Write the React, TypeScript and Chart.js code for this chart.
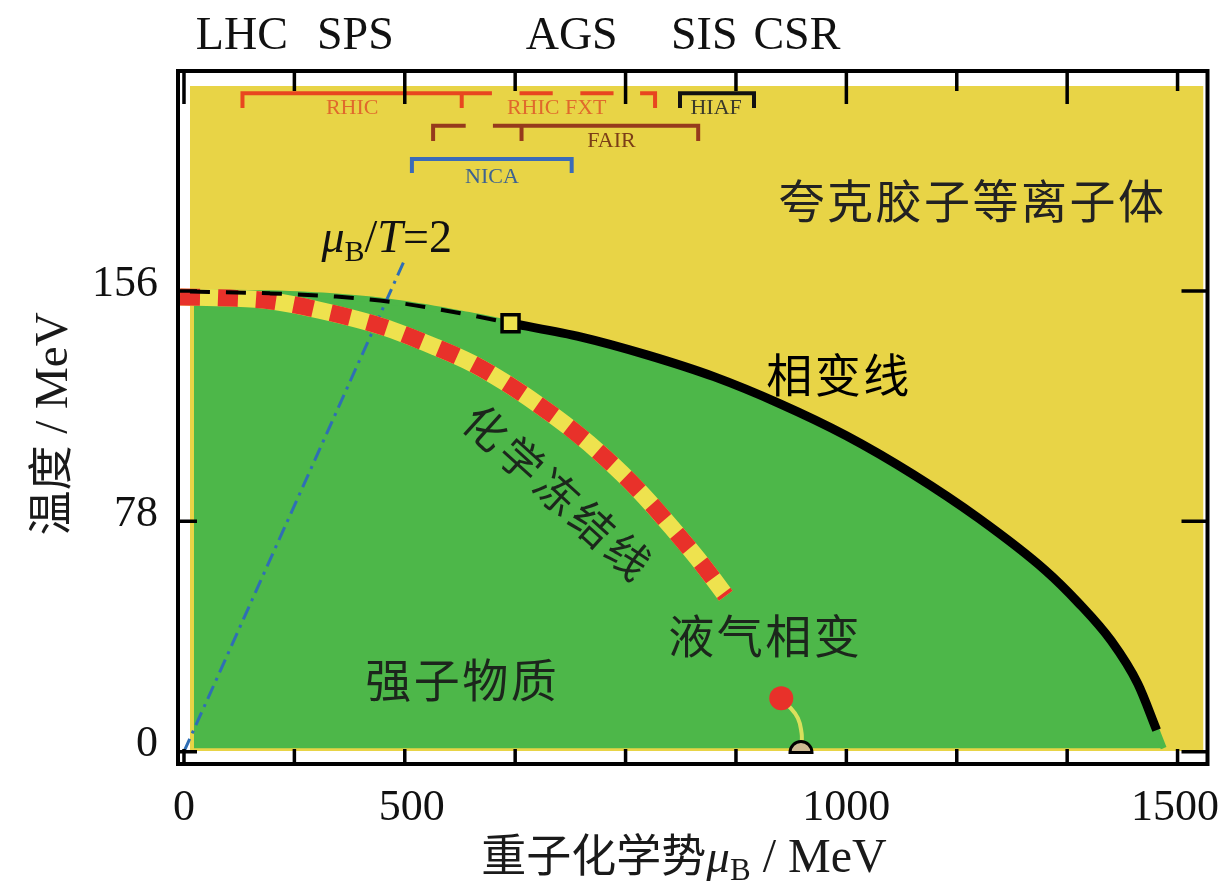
import React, { useEffect, useRef } from 'react';
import { Chart, registerables } from 'chart.js';

Chart.register(...registerables);

const SERIF = '"Liberation Serif", "Times New Roman", serif';
const CJK = '"Noto Sans CJK SC", "Noto Sans CJK JP", sans-serif';

// ---------- axes ----------
const X_MIN = -9.03;
const X_MAX = 1545.2;
const Y_MIN = -4.17;
const Y_MAX = 230.5;
const xTickValues = [0, 166.67, 333.33, 500, 666.67, 833.33, 1000, 1166.67, 1333.33, 1500];
const xLabelValues = [0, 344, 1000, 1496];
const xLabelTexts = ['0', '500', '1000', '1500'];
const yTickValues = [0, 78, 156];
const yLabelTexts = ['0', '78', '156'];

// ---------- regions ----------
const qgpRegionMu = [9, 1539.2];
const qgpRegionTop = [225.4, 225.4];
const QGP_BOTTOM = 0.2;
const HADRON_BOTTOM = 1.2;

// ---------- phase boundary ----------
const crossoverMu = [9.0, 129.4, 229.7, 329.5, 430.3, 493.0];
const crossoverT = [155.8, 155.2, 154.1, 151.8, 147.9, 145.1];
const firstOrderMu = [493.0, 600, 700, 800, 900, 1000, 1100, 1200, 1300, 1350, 1400, 1440, 1468.4];
const firstOrderT = [145.1, 140.4, 134.3, 127.0, 117.8, 107.0, 94.0, 79.0, 61.5, 50.5, 37.5, 23.0, 7.3];
const hadronEdgeStartMu = [15];
const hadronEdgeStartT = [155.6];
const hadronEdgeEndMu = [1479];
const hadronEdgeEndT = [1.2];

// ---------- chemical freeze-out ----------
const freezeOutMu = [-6, 69.2, 129.4, 204.6, 300, 380, 435, 485, 535, 585, 636, 686, 736, 786, 818];
const freezeOutT = [154.0, 153.6, 152.7, 149.5, 143.9, 137.0, 131.5, 125.0, 117.5, 109.2, 99.5, 88.6, 76.0, 62.4, 52.8];

// ---------- mu_B / T = 2 ----------
const ratioLineMu = [0, 332];
const ratioLineT = [0, 166];

// ---------- points ----------
const criticalPointMu = [493.0];
const criticalPointT = [145.1];
const liquidGasMu = [901.7];
const liquidGasT = [18.1];
const connectorMu = [901.7, 911.7, 926.8, 932.4, 932.8];
const connectorT = [18.1, 15.8, 11.4, 6.3, 3.3];
const nucleusMu = [931.5];
const nucleusT = [-0.3];

// ---------- facility ranges ----------
const rhicMu = [[88.3, 88.3, 464.9], [419.3, 419.3], [506.6, 556.7], [598.4, 648.5], [688.6, 711.2, 711.2]];
const rhicT = [[218.0, 223.0, 223.0], [223.0, 218.0], [223.0, 223.0], [223.0, 223.0], [223.0, 223.0, 218.0]];
const hiafMu = [[748.8, 748.8, 860.6, 860.6]];
const hiafT = [[218.0, 223.0, 223.0, 218.0]];
const fairMu = [[376.1, 376.1, 425.3], [466.4, 776.3, 776.3], [509.6, 509.6]];
const fairT = [[206.8, 212.0, 212.0], [212.0, 212.0, 206.8], [212.0, 206.8]];
const nicaMu = [[344.1, 344.1, 585.3, 585.3]];
const nicaT = [[196.0, 200.7, 200.7, 196.0]];

// ---------- text ----------
const facilityNames = ['RHIC', 'RHIC FXT', 'HIAF', 'FAIR', 'NICA'];
const acceleratorNames = ['LHC', 'SPS', 'AGS', 'SIS', 'CSR'];
const regionTexts = ['夸克胶子等离子体', '相变线', '液气相变', '强子物质'];
const freezeOutText = '化学冻结线';

// label placement (kept apart from data)
const facilityLabelPos = [[254, 218.0], [562.7, 218.0], [803.4, 218.0], [645.4, 206.6], [464.9, 194.6]];
const acceleratorLabelPos = [87.3, 258.8, 585.3, 785.4, 925.3];
const ACCEL_BASE_T = 238.0;
const regionLabelPos = [[1188.6, 186.5], [987, 127.6], [875.6, 39.2], [418.3, 24.4]];
const freezeLabelPos = [563.2, 88.0];

const COL = {
  yellow: '#E8D446',
  green: '#4DB749',
  red: '#E8312A',
  bandYellow: '#EEE24E',
  blue: '#2F6EB5',
  rhic: '#E8461F',
  rhicText: '#E0692C',
  fair: '#963A1C',
  fairText: '#7B3E17',
  nica: '#3A6BB8',
  nicaText: '#3E6290',
  hiaf: '#111111',
  hiafText: '#3A3A2A',
  tan: '#CDBA92',
  connector: '#D9E05C',
};

type P = { x: number; y: number | null };
const pts = (mu: number[], t: number[]): P[] => mu.map((m, i) => ({ x: m, y: t[i] }));
const paths = (mus: number[][], ts: number[][]): P[] => {
  const out: P[] = [];
  mus.forEach((m, k) => {
    if (k) out.push({ x: m[0], y: null });
    out.push(...pts(m, ts[k]));
  });
  return out;
};

function drawParts(ctx: CanvasRenderingContext2D, parts: { t: string; f: string; dy?: number }[], x: number, y: number, align: 'left' | 'center') {
  ctx.textAlign = 'left';
  ctx.textBaseline = 'alphabetic';
  let total = 0;
  const widths = parts.map((p) => {
    ctx.font = p.f;
    const w = ctx.measureText(p.t).width;
    total += w;
    return w;
  });
  let cx = align === 'center' ? x - total / 2 : x;
  parts.forEach((p, i) => {
    ctx.font = p.f;
    ctx.fillText(p.t, cx, y + (p.dy || 0));
    cx += widths[i];
  });
}

function drawSpaced(ctx: CanvasRenderingContext2D, text: string, cx: number, cy: number, step: number) {
  const chars = Array.from(text);
  ctx.textAlign = 'center';
  ctx.textBaseline = 'middle';
  chars.forEach((ch, i) => {
    ctx.fillText(ch, cx + (i - (chars.length - 1) / 2) * step, cy);
  });
}

const decor = {
  id: 'decor',
  afterDatasetsDraw(chart: any) {
    const ctx: CanvasRenderingContext2D = chart.ctx;
    const xs = chart.scales.x;
    const ys = chart.scales.y;
    const px = (v: number) => xs.getPixelForValue(v);
    const py = (v: number) => ys.getPixelForValue(v);
    ctx.save();

    // nucleus half disc
    const nx = px(nucleusMu[0]);
    const ny = py(nucleusT[0]);
    ctx.beginPath();
    ctx.arc(nx, ny, 11, Math.PI, 2 * Math.PI);
    ctx.closePath();
    ctx.fillStyle = COL.tan;
    ctx.fill();
    ctx.lineWidth = 3;
    ctx.strokeStyle = '#000';
    ctx.stroke();

    // facility labels
    const facColors = [COL.rhicText, COL.rhicText, COL.hiafText, COL.fairText, COL.nicaText];
    ctx.font = `22px ${SERIF}`;
    ctx.textAlign = 'center';
    ctx.textBaseline = 'middle';
    facilityNames.forEach((n, i) => {
      ctx.fillStyle = facColors[i];
      ctx.fillText(n, px(facilityLabelPos[i][0]), py(facilityLabelPos[i][1]));
    });

    // region labels
    const regionColors = ['#222222', '#000000', '#1c261c', '#1c261c'];
    ctx.font = `46px ${CJK}`;
    regionTexts.forEach((t, i) => {
      ctx.fillStyle = regionColors[i];
      drawSpaced(ctx, t, px(regionLabelPos[i][0]), py(regionLabelPos[i][1]), 48.5);
    });

    // freeze-out label (rotated)
    ctx.save();
    ctx.translate(px(freezeLabelPos[0]), py(freezeLabelPos[1]));
    ctx.rotate((42.2 * Math.PI) / 180);
    ctx.font = `43px ${CJK}`;
    ctx.fillStyle = '#1c261c';
    drawSpaced(ctx, freezeOutText, 0, 0, 48);
    ctx.restore();

    // mu_B/T = 2 label
    ctx.fillStyle = '#111';
    drawParts(
      ctx,
      [
        { t: 'μ', f: `italic 46px ${SERIF}` },
        { t: 'B', f: `30px ${SERIF}`, dy: 9 },
        { t: '/', f: `46px ${SERIF}` },
        { t: 'T', f: `italic 46px ${SERIF}` },
        { t: '=2', f: `46px ${SERIF}` },
      ],
      px(207.6),
      py(169.2),
      'left'
    );
    ctx.restore();
  },
  afterDraw(chart: any) {
    const ctx: CanvasRenderingContext2D = chart.ctx;
    const a = chart.chartArea;
    const xs = chart.scales.x;
    const ys = chart.scales.y;
    ctx.save();
    ctx.strokeStyle = '#000';
    ctx.lineWidth = 3.5;
    ctx.lineCap = 'butt';
    // ticks
    xTickValues.forEach((v, i) => {
      const x = xs.getPixelForValue(v);
      ctx.beginPath();
      ctx.moveTo(x, a.top);
      ctx.lineTo(x, a.top + (i % 2 === 0 ? 33 : 20));
      ctx.moveTo(x, a.bottom);
      ctx.lineTo(x, a.bottom - 15);
      ctx.stroke();
    });
    yTickValues.forEach((v) => {
      const y = ys.getPixelForValue(v);
      ctx.beginPath();
      ctx.moveTo(a.left, y);
      ctx.lineTo(a.left + 19, y);
      ctx.moveTo(a.right, y);
      ctx.lineTo(a.right - 26, y);
      ctx.stroke();
    });
    // frame
    ctx.lineWidth = 4;
    ctx.strokeRect(a.left, a.top, a.right - a.left, a.bottom - a.top);

    // tick labels
    ctx.fillStyle = '#111';
    ctx.font = `44px ${SERIF}`;
    ctx.textAlign = 'center';
    ctx.textBaseline = 'alphabetic';
    xLabelTexts.forEach((t, i) => {
      ctx.fillText(t, xs.getPixelForValue(xLabelValues[i]), 820);
    });
    ctx.textAlign = 'right';
    ctx.textBaseline = 'middle';
    yLabelTexts.forEach((t, i) => {
      ctx.fillText(t, 158, ys.getPixelForValue(yTickValues[i]) - 7);
    });

    // accelerator names above the frame
    ctx.font = `46px ${SERIF}`;
    ctx.textAlign = 'center';
    ctx.textBaseline = 'alphabetic';
    acceleratorNames.forEach((n, i) => {
      ctx.fillText(n, xs.getPixelForValue(acceleratorLabelPos[i]), ys.getPixelForValue(ACCEL_BASE_T));
    });

    // axis titles
    ctx.fillStyle = '#1a1a1a';
    drawParts(
      ctx,
      [
        { t: '重子化学势', f: `45px ${CJK}` },
        { t: 'μ', f: `italic 47px ${SERIF}` },
        { t: 'B', f: `31px ${SERIF}`, dy: 8 },
        { t: ' / MeV', f: `48px ${SERIF}` },
      ],
      684,
      872,
      'center'
    );
    ctx.save();
    ctx.translate(67, 424);
    ctx.rotate(-Math.PI / 2);
    drawParts(
      ctx,
      [
        { t: '温度', f: `45px ${CJK}` },
        { t: ' / MeV', f: `47px ${SERIF}` },
      ],
      0,
      0,
      'center'
    );
    ctx.restore();
    ctx.restore();
  },
};

export default function App() {
  const ref = useRef<HTMLCanvasElement>(null);
  useEffect(() => {
    const canvas = ref.current;
    if (!canvas) return;
    const hadronMu = [...hadronEdgeStartMu, ...crossoverMu.slice(1), ...firstOrderMu.slice(1), ...hadronEdgeEndMu];
    const hadronT = [...hadronEdgeStartT, ...crossoverT.slice(1), ...firstOrderT.slice(1), ...hadronEdgeEndT];
    const line = (extra: any) => ({
      pointRadius: 0,
      borderCapStyle: 'butt',
      borderJoinStyle: 'miter',
      fill: false,
      ...extra,
    });
    const chart = new Chart(canvas, {
      type: 'line',
      data: {
        datasets: [
          line({
            label: 'critical point',
            data: pts(criticalPointMu, criticalPointT),
            showLine: false,
            pointStyle: 'rect',
            pointRadius: 12,
            pointBorderWidth: 3.5,
            pointBorderColor: '#000',
            pointBackgroundColor: COL.bandYellow,
          }),
          line({
            label: 'liquid-gas',
            data: pts(liquidGasMu, liquidGasT),
            showLine: false,
            pointStyle: 'circle',
            pointRadius: 12,
            pointBorderWidth: 0,
            pointBackgroundColor: COL.red,
          }),
          line({ label: 'connector', data: pts(connectorMu, connectorT), borderColor: COL.connector, borderWidth: 4, tension: 0.4, borderCapStyle: 'round' }),
          line({ label: 'RHIC', data: paths(rhicMu, rhicT), borderColor: COL.rhic, borderWidth: 4, spanGaps: false }),
          line({ label: 'HIAF', data: paths(hiafMu, hiafT), borderColor: COL.hiaf, borderWidth: 4, spanGaps: false }),
          line({ label: 'FAIR', data: paths(fairMu, fairT), borderColor: COL.fair, borderWidth: 4, spanGaps: false }),
          line({ label: 'NICA', data: paths(nicaMu, nicaT), borderColor: COL.nica, borderWidth: 4, spanGaps: false }),
          line({ label: 'crossover', data: pts(crossoverMu, crossoverT), borderColor: '#000', borderWidth: 4, borderDash: [20, 16], cubicInterpolationMode: 'monotone' }),
          line({ label: 'first order', data: pts(firstOrderMu, firstOrderT), borderColor: '#000', borderWidth: 9, cubicInterpolationMode: 'monotone' }),
          line({ label: 'freeze-out red', data: pts(freezeOutMu, freezeOutT), borderColor: COL.red, borderWidth: 17, borderDash: [20, 18], cubicInterpolationMode: 'monotone' }),
          line({ label: 'freeze-out yellow', data: pts(freezeOutMu, freezeOutT), borderColor: COL.bandYellow, borderWidth: 17, cubicInterpolationMode: 'monotone' }),
          line({ label: 'muB/T=2', data: pts(ratioLineMu, ratioLineT), borderColor: COL.blue, borderWidth: 3, borderDash: [14, 6, 3, 6] }),
          line({
            label: 'hadron matter',
            data: pts(hadronMu, hadronT),
            borderColor: COL.green,
            borderWidth: 6,
            backgroundColor: COL.green,
            fill: { value: HADRON_BOTTOM },
            cubicInterpolationMode: 'monotone',
          }),
          line({
            label: 'QGP',
            data: pts(qgpRegionMu, qgpRegionTop),
            borderColor: COL.yellow,
            borderWidth: 0,
            backgroundColor: COL.yellow,
            fill: { value: QGP_BOTTOM },
          }),
        ],
      },
      options: {
        responsive: false,
        maintainAspectRatio: false,
        animation: false,
        devicePixelRatio: 1,
        layout: { padding: { left: 178, top: 71, right: 12, bottom: 117 } },
        scales: {
          x: { type: 'linear', min: X_MIN, max: X_MAX, display: false },
          y: { type: 'linear', min: Y_MIN, max: Y_MAX, display: false },
        },
        plugins: {
          legend: { display: false },
          tooltip: { enabled: false },
        },
        events: [],
      },
      plugins: [decor],
    } as any);
    return () => chart.destroy();
  }, []);
  return (
    <div style={{ position: 'fixed', left: 0, top: 0, width: 1223, height: 881, background: '#ffffff' }}>
      <canvas ref={ref} width={1223} height={881} style={{ display: 'block', width: 1223, height: 881 }} />
    </div>
  );
}
